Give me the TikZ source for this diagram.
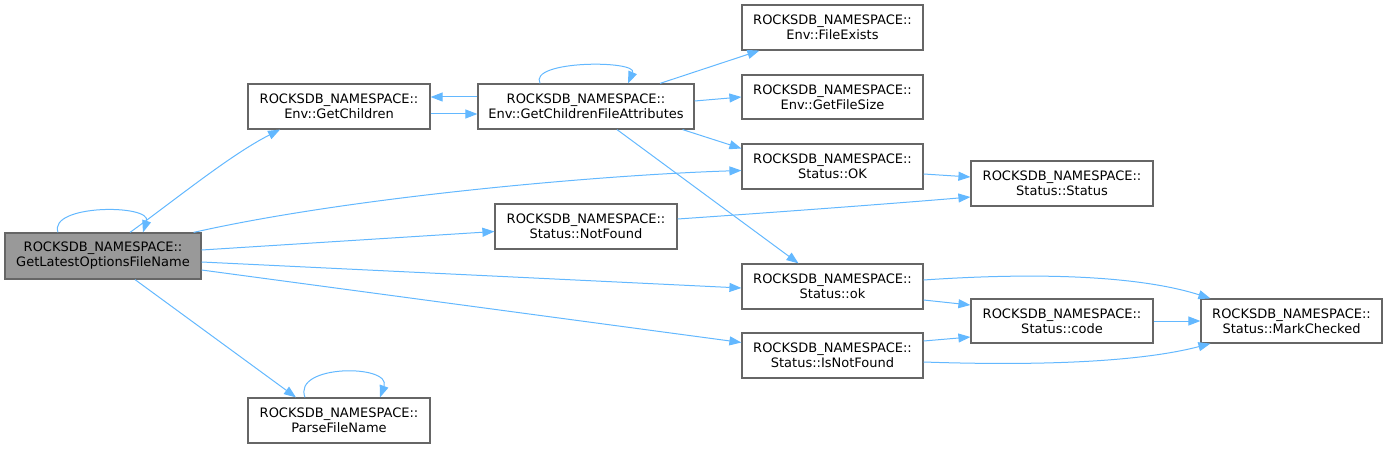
\documentclass[tikz,border=0pt]{standalone}
\usepackage{fontspec}
\setmainfont{DejaVu Sans}
\usetikzlibrary{arrows.meta}
\definecolor{edgec}{HTML}{63B8FF}
\definecolor{borderc}{HTML}{666666}
\definecolor{grayfill}{HTML}{999999}
\tikzset{
  fn/.style={draw=borderc, line width=1.2pt, fill=white, align=center, inner sep=0pt,
    minimum height=45pt, font=\fontsize{13pt}{15pt}\selectfont},
  cur/.style={fn, fill=grayfill},
  call/.style={draw=edgec, line width=1pt, -{Triangle[length=12pt,width=9pt]}},
}
\begin{document}
\begin{tikzpicture}[x=1pt,y=-1pt]
\useasboundingbox (0,0) rectangle (1388,449);
\node[cur, minimum width=196pt, minimum height=46pt] (A) at (103,256) {ROCKSDB\_NAMESPACE::\\GetLatestOptionsFileName};
\node[fn, minimum width=182pt] (B) at (339,106.5) {ROCKSDB\_NAMESPACE::\\Env::GetChildren};
\node[fn, minimum width=216pt] (C) at (586,106.5) {ROCKSDB\_NAMESPACE::\\Env::GetChildrenFileAttributes};
\node[fn, minimum width=181pt] (D) at (832.5,27.5) {ROCKSDB\_NAMESPACE::\\Env::FileExists};
\node[fn, minimum width=181pt, minimum height=44pt] (E) at (832.5,97) {ROCKSDB\_NAMESPACE::\\Env::GetFileSize};
\node[fn, minimum width=181pt] (F) at (832.5,166.5) {ROCKSDB\_NAMESPACE::\\Status::OK};
\node[fn, minimum width=182pt] (G) at (1062,183.5) {ROCKSDB\_NAMESPACE::\\Status::Status};
\node[fn, minimum width=182pt] (H) at (586,226.5) {ROCKSDB\_NAMESPACE::\\Status::NotFound};
\node[fn, minimum width=181pt] (I) at (832.5,286.5) {ROCKSDB\_NAMESPACE::\\Status::ok};
\node[fn, minimum width=182pt, minimum height=44pt] (J) at (1062,321) {ROCKSDB\_NAMESPACE::\\Status::code};
\node[fn, minimum width=181pt, minimum height=44pt] (K) at (1291.5,321) {ROCKSDB\_NAMESPACE::\\Status::MarkChecked};
\node[fn, minimum width=181pt] (L) at (832.5,355.5) {ROCKSDB\_NAMESPACE::\\Status::IsNotFound};
\node[fn, minimum width=182pt] (M) at (339,420.5) {ROCKSDB\_NAMESPACE::\\ParseFileName};

% self loops
\draw[call] ([xshift=-45]A.north) .. controls (48,204) and (152,204) .. ([xshift=40]A.north);
\draw[call] ([xshift=-46]C.north) .. controls (528,60) and (638,60) .. ([xshift=42]C.north);
\draw[call] ([xshift=-34]M.north) .. controls (292,364) and (392,364) .. ([xshift=41]M.north);

% from A
\draw[call] ([xshift=27]A.north) .. controls (175,200) and (230,155) .. ([xshift=-59]B.south);
\draw[call] ([xshift=-8]A.north east) .. controls (350,197) and (600,175) .. ([yshift=-4]F.west);
\draw[call] ([yshift=6]A.east) -- ([yshift=-5]H.west);
\draw[call] ([yshift=-6]A.east) -- ([yshift=-1.5]I.west);
\draw[call] ([yshift=-14]A.east) -- ([yshift=13]L.west);
\draw[call] ([xshift=32]A.south) -- ([xshift=-43]M.north);

% B <-> C
\draw[call] ([yshift=-7.5]B.east) -- ([yshift=-7.5]C.west);
\draw[call] ([yshift=9.5]C.west) -- ([yshift=9.5]B.east);

% from C
\draw[call] ([xshift=74]C.north) -- ([xshift=18]D.south west);
\draw[call] ([yshift=5.5]C.east) -- ([yshift=0]E.west);
\draw[call] ([xshift=-12]C.south east) -- ([yshift=18]F.west);
\draw[call] ([xshift=31]C.south) -- ([xshift=-34]I.north);

% to G
\draw[call] ([yshift=-7.5]F.east) -- ([yshift=6.5]G.west);
\draw[call] ([yshift=7.5]H.east) .. controls (780,212) and (900,203) .. ([yshift=-13.5]G.west);

% to J / K
\draw[call] ([yshift=6.5]I.east) .. controls (1040,272) and (1140,276) .. ([xshift=10]K.north west);
\draw[call] ([yshift=-13.5]I.east) -- ([yshift=16]J.west);
\draw[call] ([yshift=14.5]L.east) -- ([yshift=-16]J.west);
\draw[call] ([yshift=-6.5]L.east) .. controls (1040,366) and (1140,362) .. ([xshift=10]K.south west);
\draw[call] (J.east) -- (K.west);
\end{tikzpicture}
\end{document}
